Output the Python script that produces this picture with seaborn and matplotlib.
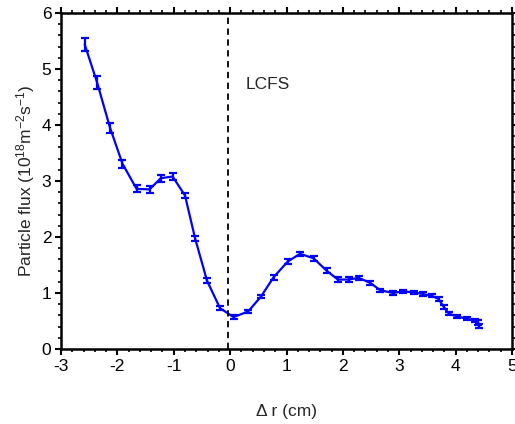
import numpy as np
import pandas as pd
import matplotlib
matplotlib.use("Agg")
import matplotlib.pyplot as plt
from matplotlib.ticker import MultipleLocator
import seaborn as sns

# Radial position relative to the LCFS (cm)
delta_r = [-2.58, -2.36, -2.13, -1.91, -1.66, -1.43, -1.23, -1.02, -0.80, -0.62,
           -0.41, -0.18, 0.06, 0.32, 0.55, 0.77, 1.02, 1.24, 1.48, 1.71,
           1.91, 2.10, 2.28, 2.49, 2.66, 2.89, 3.07, 3.26, 3.43, 3.58,
           3.70, 3.79, 3.88, 4.03, 4.20, 4.35, 4.40, 4.41]
# Particle flux (1e18 m^-2 s^-1)
flux = [5.44, 4.76, 3.95, 3.31, 2.86, 2.85, 3.05, 3.08, 2.74, 1.97,
        1.22, 0.73, 0.57, 0.67, 0.94, 1.28, 1.56, 1.70, 1.62, 1.40,
        1.24, 1.24, 1.27, 1.18, 1.05, 1.00, 1.03, 1.01, 0.98, 0.95,
        0.89, 0.75, 0.63, 0.58, 0.54, 0.51, 0.47, 0.41]
# Standard error of the flux
flux_err = [0.12, 0.11, 0.09, 0.07, 0.06, 0.06, 0.06, 0.06, 0.05, 0.04,
            0.04, 0.03, 0.03, 0.03, 0.03, 0.04, 0.04, 0.04, 0.04, 0.04,
            0.04, 0.04, 0.04, 0.04, 0.03, 0.03, 0.03, 0.03, 0.03, 0.03,
            0.03, 0.04, 0.03, 0.03, 0.03, 0.03, 0.04, 0.04]

lcfs_position = -0.04
x_ticks = [-3, -2, -1, 0, 1, 2, 3, 4, 5]
y_ticks = [0, 1, 2, 3, 4, 5, 6]

df = pd.DataFrame({"dr": delta_r, "flux": flux, "err": flux_err})

sns.set_style("ticks")
plt.rcParams["font.family"] = ["Liberation Sans", "DejaVu Sans"]
plt.rcParams["mathtext.fontset"] = "custom"
plt.rcParams["mathtext.rm"] = "Liberation Sans"
plt.rcParams["mathtext.it"] = "Liberation Sans:italic"

fs = 12.5
fig = plt.figure(figsize=(5.15, 4.24), dpi=100)
ax = fig.add_axes([61 / 515, 75 / 424, 451 / 515, 336 / 424])

blue = "#0000FF"
sns.lineplot(data=df, x="dr", y="flux", ax=ax, color=blue, linewidth=1.6,
             sort=False, estimator=None)
ax.errorbar(df["dr"], df["flux"], yerr=df["err"], fmt="none", ecolor=blue,
            elinewidth=1.6, capsize=3.2, capthick=1.6)

ax.axvline(lcfs_position, color="black", linestyle=(0, (3.5, 2.5)), linewidth=1.3)
ax.text(0.27, 4.73, "LCFS", fontsize=fs, va="center", ha="left")

ax.set_xlim(-3, 5)
ax.set_ylim(0, 6)
ax.set_xticks(x_ticks)
ax.set_yticks(y_ticks)
ax.set_xticklabels([str(t) for t in x_ticks])
ax.set_yticklabels([str(t) for t in y_ticks])
ax.xaxis.set_minor_locator(MultipleLocator(0.2))
ax.yaxis.set_minor_locator(MultipleLocator(0.2))
ax.tick_params(which="both", direction="out", top=True, right=True,
               labeltop=False, labelright=False, colors="black", labelsize=fs)
ax.tick_params(which="major", length=4, width=1.5, pad=3)
ax.tick_params(which="minor", length=2, width=1.2)

for s in ax.spines.values():
    s.set_visible(True)
    s.set_linewidth(1.8)
    s.set_color("black")

ax.set_xlabel("\u0394 r (cm)", fontsize=fs, labelpad=22)
ax.set_ylabel("Particle flux (10$^{18}$m$^{-2}$s$^{-1}$)", fontsize=fs, labelpad=3)

fig.savefig("out.png", dpi=100)
